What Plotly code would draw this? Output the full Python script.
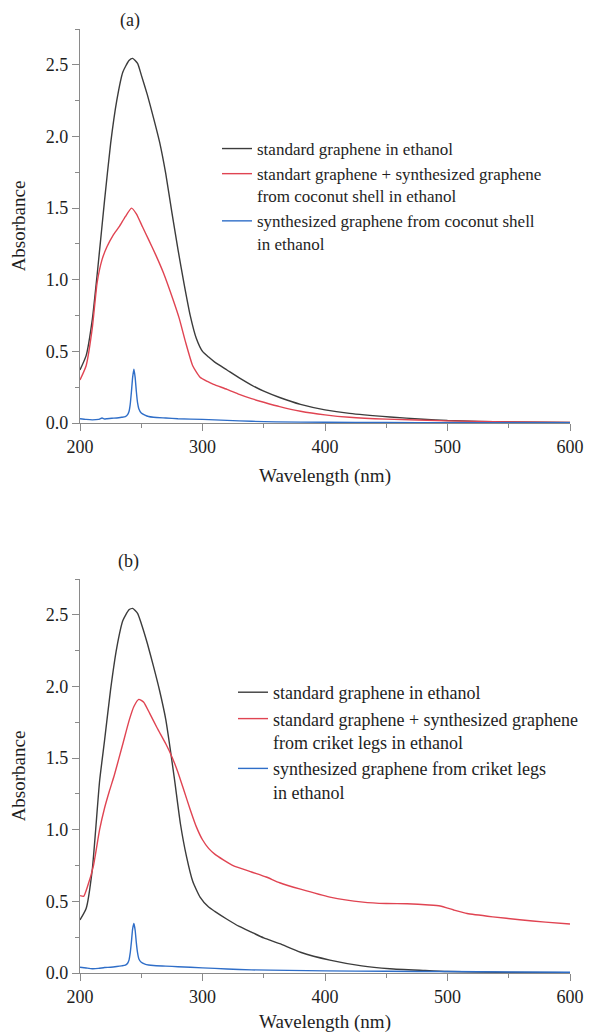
import plotly.graph_objects as go

# ---------------- Panel (a) data ----------------
a_black_x = [200, 205, 210, 215, 220, 225, 230, 235, 240, 243, 247, 250, 255, 260, 265, 270, 275,
             280, 285, 290, 295, 300, 305, 310, 320, 330, 340, 350, 363, 380, 400, 420, 453, 480, 500, 550, 600]
a_black_y = [0.37, 0.47, 0.72, 1.12, 1.55, 1.95, 2.25, 2.45, 2.53, 2.545, 2.51, 2.43, 2.29, 2.13, 1.96, 1.74, 1.47,
             1.21, 0.97, 0.75, 0.59, 0.50, 0.46, 0.425, 0.37, 0.315, 0.265, 0.222, 0.178, 0.13, 0.092, 0.067, 0.042, 0.026, 0.017, 0.007, 0.003]

a_red_x = [200, 205, 210, 214, 218, 222, 227, 232, 237, 242, 246, 251, 256, 262, 268, 276, 281, 286, 292,
           298, 304, 309, 320, 330, 340, 350, 363, 380, 400, 420, 450, 500, 550, 600]
a_red_y = [0.30, 0.40, 0.66, 0.98, 1.14, 1.23, 1.31, 1.37, 1.44, 1.50, 1.46, 1.37, 1.28, 1.17, 1.05, 0.86, 0.73, 0.57, 0.40,
           0.32, 0.29, 0.27, 0.235, 0.20, 0.17, 0.145, 0.114, 0.082, 0.057, 0.04, 0.027, 0.015, 0.008, 0.004]

a_blue_x = [200, 205, 210, 215, 218, 220, 222, 226, 230, 234, 237, 239, 240, 241, 242, 243, 244, 245, 246,
            247, 248, 250, 253, 256, 260, 270, 280, 300, 320, 340, 360, 400, 450, 500, 550, 600]
a_blue_y = [0.030, 0.025, 0.022, 0.025, 0.035, 0.028, 0.030, 0.033, 0.035, 0.040, 0.045, 0.06, 0.08, 0.13, 0.22, 0.32, 0.375, 0.32, 0.22,
            0.14, 0.10, 0.07, 0.055, 0.045, 0.040, 0.035, 0.030, 0.025, 0.018, 0.012, 0.008, 0.005, 0.003, 0.002, 0.002, 0.002]

# ---------------- Panel (b) data ----------------
b_black_x = [200, 205, 210, 216, 220, 225, 230, 235, 240, 243, 247, 250, 255, 260, 265, 270, 277,
             282, 287, 292, 298, 305, 310, 320, 330, 340, 350, 363, 380, 404, 430, 453, 480, 500, 550, 600]
b_black_y = [0.37, 0.45, 0.72, 1.34, 1.62, 1.98, 2.27, 2.46, 2.535, 2.545, 2.51, 2.44, 2.30, 2.14, 1.97, 1.77, 1.36,
             1.04, 0.81, 0.64, 0.53, 0.46, 0.43, 0.375, 0.325, 0.285, 0.245, 0.205, 0.145, 0.09, 0.05, 0.03, 0.018, 0.01, 0.004, 0.002]

b_red_x = [200, 203, 206, 211, 216, 220, 224, 228, 235, 240, 244, 248, 252, 257, 263, 270, 275, 280, 285, 290,
           295, 300, 305, 310, 317, 325, 340, 352, 363, 380, 404, 431, 450, 467, 485, 494, 505, 516, 537, 559, 580, 600]
b_red_y = [0.54, 0.535, 0.60, 0.75, 1.00, 1.15, 1.27, 1.38, 1.60, 1.76, 1.86, 1.91, 1.89, 1.81, 1.71, 1.60, 1.51, 1.40, 1.27, 1.14,
           1.02, 0.93, 0.87, 0.83, 0.79, 0.75, 0.705, 0.67, 0.63, 0.585, 0.53, 0.495, 0.485, 0.483, 0.475, 0.468, 0.44, 0.415, 0.392, 0.372, 0.355, 0.342]

b_blue_x = [200, 205, 210, 215, 220, 225, 230, 234, 237, 239, 240, 241, 242, 243, 244, 245, 246,
            247, 248, 250, 253, 256, 260, 270, 280, 300, 320, 340, 370, 400, 450, 500, 550, 600]
b_blue_y = [0.040, 0.035, 0.030, 0.032, 0.038, 0.040, 0.045, 0.050, 0.055, 0.07, 0.09, 0.14, 0.22, 0.31, 0.345, 0.30, 0.21,
            0.14, 0.10, 0.075, 0.062, 0.056, 0.052, 0.048, 0.044, 0.036, 0.028, 0.022, 0.018, 0.015, 0.012, 0.010, 0.007, 0.005]

# ---------------- labels ----------------
a_names = ["standard graphene in ethanol",
           "standart graphene + synthesized graphene<br>from coconut shell in ethanol",
           "synthesized graphene from coconut shell<br>in ethanol"]
b_names = ["standard graphene in ethanol",
           "standard graphene + synthesized graphene<br>from criket legs in ethanol",
           "synthesized graphene from criket legs<br>in ethanol"]
x_ticks = [200, 300, 400, 500, 600]
y_ticks = [0.0, 0.5, 1.0, 1.5, 2.0, 2.5]
y_ticklabels = ["0.0", "0.5", "1.0", "1.5", "2.0", "2.5"]

BLACK = "#3c3c3c"
RED = "#e04452"
BLUE = "#2f6ec8"
FONT = "Liberation Serif, Times New Roman, Times, serif"
TXT = "#1e1e1e"

fig = go.Figure()

a_series = [(a_black_x, a_black_y, BLACK), (a_red_x, a_red_y, RED), (a_blue_x, a_blue_y, BLUE)]
b_series = [(b_black_x, b_black_y, BLACK), (b_red_x, b_red_y, RED), (b_blue_x, b_blue_y, BLUE)]

for (xs, ys, c), name in zip(a_series, a_names):
    fig.add_trace(go.Scatter(x=xs, y=ys, mode="lines", name=name, line=dict(color=c, width=1.4, shape="spline", smoothing=0.5),
                             xaxis="x", yaxis="y", legend="legend"))
for (xs, ys, c), name in zip(b_series, b_names):
    fig.add_trace(go.Scatter(x=xs, y=ys, mode="lines", name=name, line=dict(color=c, width=1.4, shape="spline", smoothing=0.5),
                             xaxis="x2", yaxis="y2", legend="legend2"))

# the page places the figure 8 px in from the top-left corner
OFF = 8
W, H = 603 - OFF, 1033 - OFF
def px_x(p):
    return (p - OFF) / W
def px_y(p):
    return 1 - (p - OFF) / H

axis_common = dict(showline=True, linecolor="#8a8a8a", linewidth=1.2, ticks="outside", ticklen=7, tickwidth=1,
                   tickcolor="#8a8a8a", showgrid=False, zeroline=False, automargin=False,
                   tickfont=dict(family=FONT, size=18, color=TXT), mirror=False)

xaxis_common = dict(axis_common, range=[200, 600], tickvals=x_ticks, ticktext=[str(v) for v in x_ticks],
                    minor=dict(ticks="outside", ticklen=4, tickcolor="#8a8a8a", dtick=50, tick0=200, showgrid=False),
                    title=dict(text="Wavelength (nm)", font=dict(family=FONT, size=19, color=TXT), standoff=12))
yaxis_common = dict(axis_common, range=[0, 2.75], tickvals=y_ticks, ticktext=y_ticklabels,
                    minor=dict(ticks="outside", ticklen=4, tickcolor="#8a8a8a", dtick=0.25, tick0=0, showgrid=False),
                    title=dict(text="Absorbance", font=dict(family=FONT, size=19, color=TXT), standoff=15))

legend_common = dict(bgcolor="rgba(0,0,0,0)", borderwidth=0,
                     xanchor="left", yanchor="top", valign="top", itemclick=False, tracegroupgap=0)

fig.update_layout(
    width=W, height=H,
    margin=dict(l=0, r=0, t=0, b=0, autoexpand=False),
    paper_bgcolor="white", plot_bgcolor="white",
    showlegend=True,
    xaxis=dict(xaxis_common, domain=[px_x(80), px_x(570)], anchor="y"),
    yaxis=dict(yaxis_common, domain=[px_y(423), px_y(29)], anchor="x"),
    xaxis2=dict(xaxis_common, domain=[px_x(80), px_x(570)], anchor="y2"),
    yaxis2=dict(yaxis_common, domain=[px_y(973), px_y(579)], anchor="x2"),
    legend=dict(legend_common, font=dict(family=FONT, size=17, color=TXT), x=px_x(217), y=px_y(131)),
    legend2=dict(legend_common, font=dict(family=FONT, size=18, color=TXT), x=px_x(233), y=px_y(674)),
    annotations=[
        dict(text="(a)", x=px_x(130), y=px_y(20), xref="paper", yref="paper", showarrow=False,
             xanchor="center", yanchor="middle", font=dict(family=FONT, size=18, color=TXT)),
        dict(text="(b)", x=px_x(128), y=px_y(561), xref="paper", yref="paper", showarrow=False,
             xanchor="center", yanchor="middle", font=dict(family=FONT, size=18, color=TXT)),
    ],
)

fig.write_html("out.html")
